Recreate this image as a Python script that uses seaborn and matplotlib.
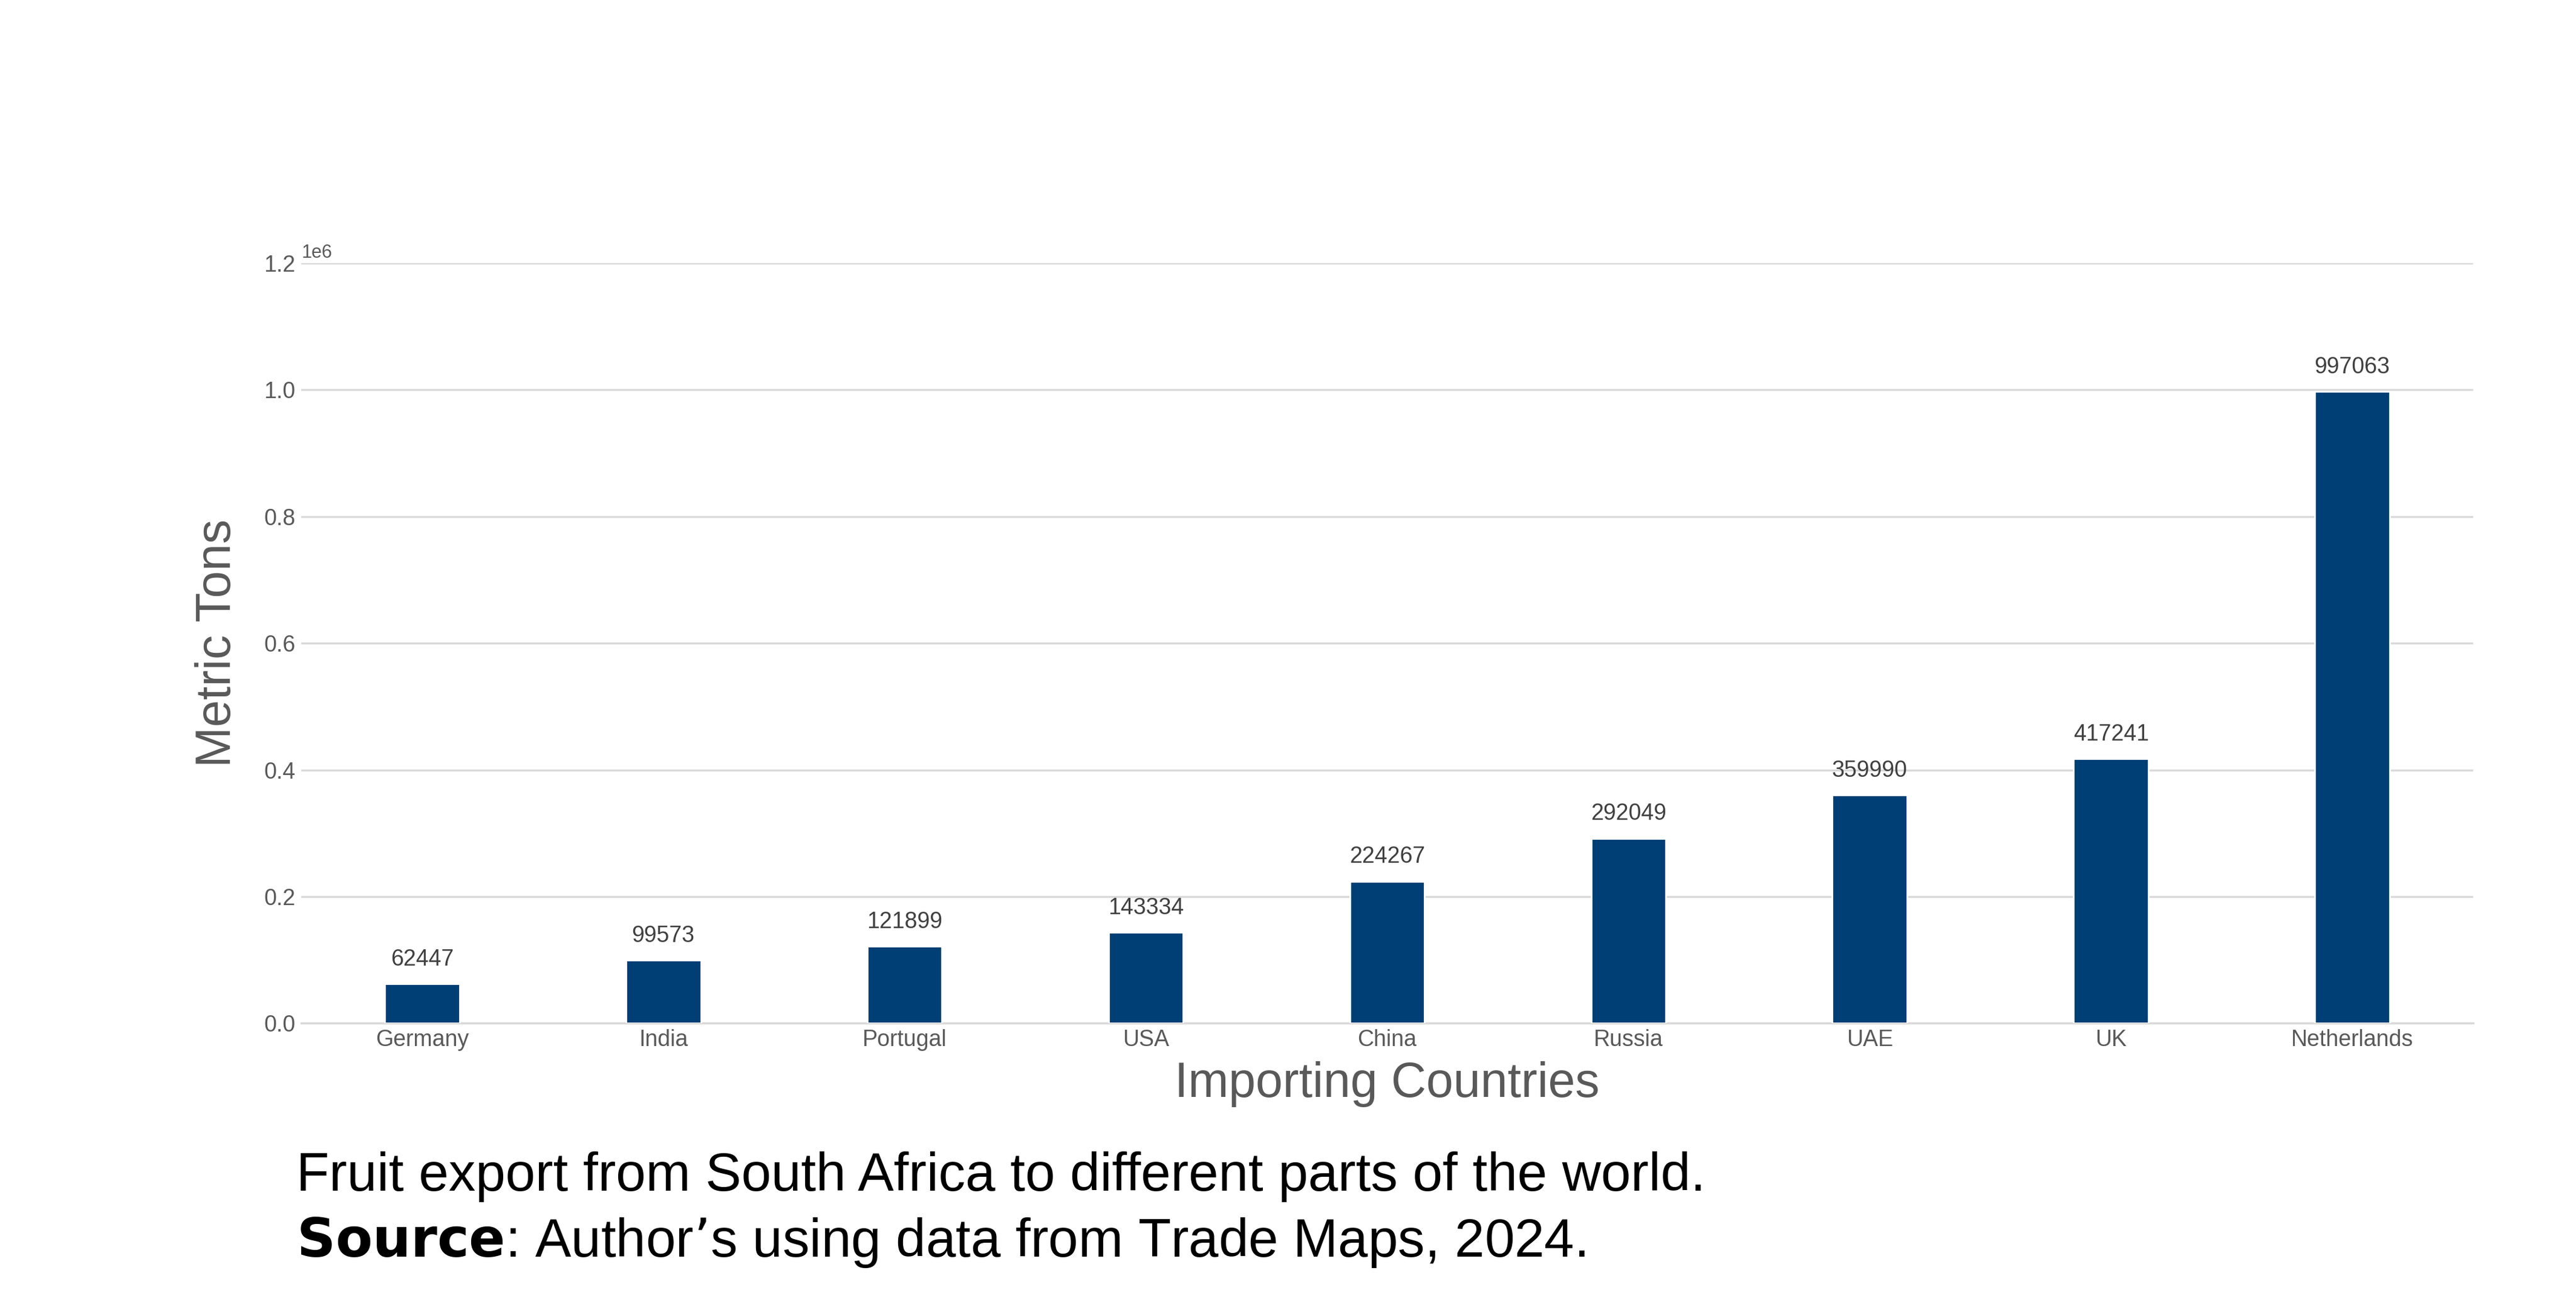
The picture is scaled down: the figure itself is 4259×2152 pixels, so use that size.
import pandas as pd
import seaborn as sns
import matplotlib.pyplot as plt

# data
countries = ["Germany", "India", "Portugal", "USA", "China", "Russia", "UAE", "UK", "Netherlands"]
tons = [62447, 99573, 121899, 143334, 224267, 292049, 359990, 417241, 997063]

df = pd.DataFrame({"Country": countries, "Tons": tons})

sns.set_theme(style="white")
plt.rcParams["font.family"] = ["Liberation Sans", "DejaVu Sans"]

fig = plt.figure(figsize=(21.295, 10.76), dpi=200)
ax = fig.add_axes([0.117, 0.214, 0.843, 0.584])

sns.barplot(data=df, x="Country", y="Tons", color="#003f75", width=0.31,
            saturation=1, ax=ax, zorder=3)

ax.set_ylim(0, 1200000)
ax.set_yticks(range(0, 1200001, 200000))
ax.yaxis.grid(True, color="#d9d9d9", linewidth=1.2, zorder=0)
for s in ["top", "right", "left"]:
    ax.spines[s].set_visible(False)
ax.spines["bottom"].set_color("#d9d9d9")
ax.tick_params(axis="both", labelsize=13.5, colors="#595959", length=0)
ax.set_xlim(-0.5, len(countries) - 0.5)

for i, v in enumerate(tons):
    ax.annotate(str(v), (i, v), xytext=(0, 8), textcoords="offset points",
                ha="center", va="bottom", fontsize=13.5, color="#404040")

ax.set_xlabel("Importing Countries", fontsize=29, color="#595959", labelpad=6)
ax.set_ylabel("Metric Tons", fontsize=29, color="#595959", labelpad=14)

fig.text(0.115, 0.096, "Fruit export from South Africa to different parts of the world.",
         fontsize=32, color="black", va="center")
fig.text(0.115, 0.046, r"$\bf{Source}$: Author’s using data from Trade Maps, 2024.",
         fontsize=32, color="black", va="center")

fig.savefig("out.png", dpi=200)
